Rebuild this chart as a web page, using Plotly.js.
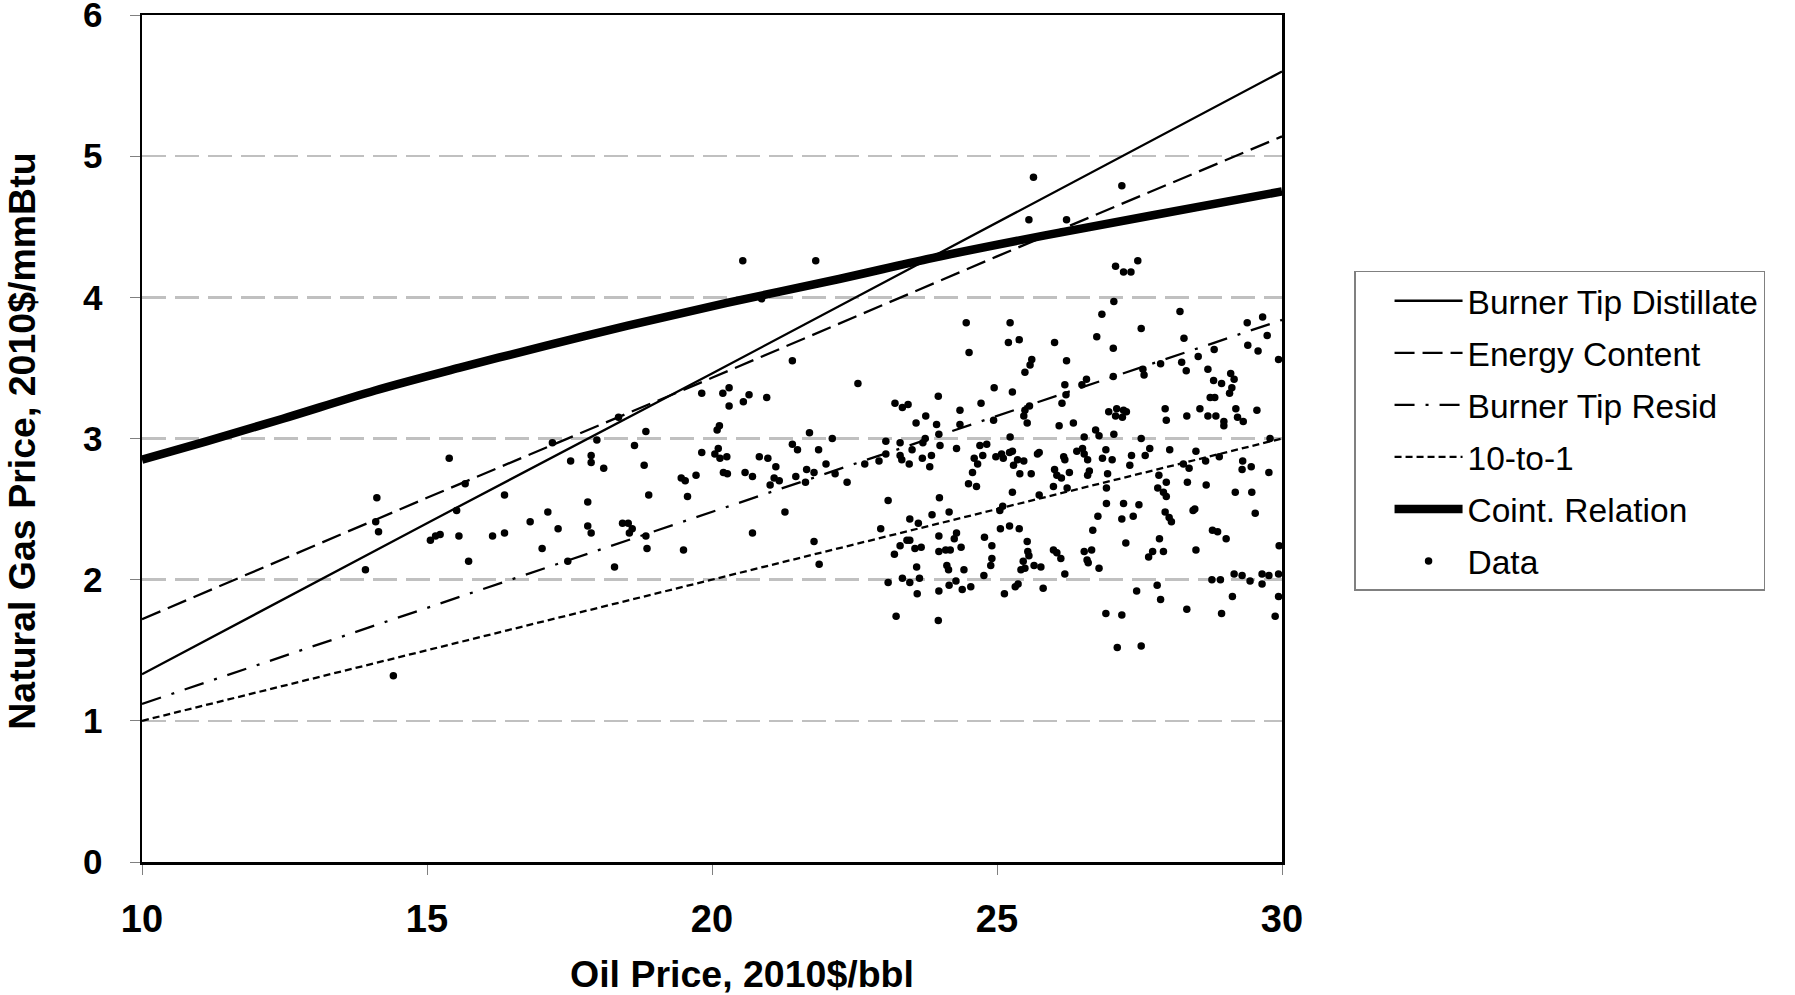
<!DOCTYPE html>
<html>
<head>
<meta charset="utf-8">
<script src="https://cdn.plot.ly/plotly-3.0.1.min.js"></script>
<style>
html,body{margin:0;padding:0;background:#fff;}
#chart{width:1795px;height:995px;}
</style>
</head>
<body>
<div id="chart"></div>
<script>
// ---- Reference lines ----
var lineX = [10, 15, 20, 25, 30];
var burnerTipDistillate = [1.33, 2.40, 3.46, 4.53, 5.60];
var energyContent = [1.72, 2.58, 3.43, 4.29, 5.14];
var burnerTipResid = [1.12, 1.80, 2.48, 3.16, 3.84];
var tenToOne = [1.00, 1.50, 2.00, 2.50, 3.00];

// ---- Cointegrating relation ----
var cointX = [10, 11.13, 12.47, 14.09, 15.56, 17.11, 18.52, 20.26, 22.23, 23.88, 25.73, 27.71, 30];
var cointY = [2.85, 2.98, 3.14, 3.34, 3.50, 3.66, 3.80, 3.96, 4.13, 4.28, 4.43, 4.58, 4.75];

// ---- Observed data (oil price, gas price) ----
var dataOil = [
20.54,20.87,19.82,20.19,20.30,20.30,20.55,20.65,20.96,18.36,17.20,18.84,17.98,20.13,20.09,18.64,20.11,19.82,20.05,20.14,
20.26,15.39,17.52,17.88,17.88,18.10,18.81,20.83,20.98,20.20,20.27,20.58,20.71,19.46,19.53,19.72,21.02,15.67,14.12,16.36,
18.89,19.57,17.82,15.52,14.10,14.15,17.12,16.81,18.43,18.53,18.60,18.55,17.82,17.88,17.30,15.06,15.15,15.23,15.56,16.15,
16.36,18.84,20.71,15.73,17.02,18.86,19.50,13.92,18.29,17.47,14.41,
21.82,21.41,22.56,23.21,23.34,23.44,23.97,23.58,23.75,23.94,21.71,21.41,21.50,21.87,22.11,21.12,22.00,21.66,21.79,21.47,
21.09,21.18,21.64,22.16,22.37,22.68,22.93,23.05,23.05,23.30,23.30,23.33,23.46,23.51,23.70,23.74,23.69,23.85,23.82,23.98,
24.00,21.28,23.09,22.96,21.79,21.88,23.47,23.62,23.99,23.86,24.16,23.42,23.47,23.30,23.20,23.56,23.67,23.98,23.98,24.10,
23.59,24.12,24.15,23.09,23.34,23.47,23.64,23.60,23.98,24.16,23.23,23.97,
25.64,25.56,26.22,27.08,27.05,26.84,24.46,25.23,25.20,25.39,26.01,26.75,27.04,24.51,25.61,25.58,26.22,25.49,26.57,24.95,
25.27,26.19,26.49,26.21,27.04,24.72,25.57,25.49,25.47,26.14,24.35,24.94,25.53,24.35,26.09,26.34,26.96,27.10,27.08,25.23,
26.53,26.73,26.79,27.05,24.29,24.70,24.82,24.75,24.60,24.66,24.98,25.08,25.11,25.22,25.27,25.29,25.36,25.47,25.71,25.74,
26.17,26.19,26.40,26.50,26.53,26.59,26.91,26.85,27.02,24.57,24.50,24.64,25.40,25.60,26.01,26.05,26.13,26.27,25.99,26.62,
26.59,26.94,26.92,25.27,25.74,26.23,25.10,25.05,26.92,26.77,26.68,24.29,24.25,24.78,25.06,25.22,25.39,25.53,24.37,24.18,
24.91,24.91,24.89,24.42,25.54,25.56,25.46,25.42,25.49,25.65,25.77,25.99,26.05,26.12,26.19,26.53,26.66,26.58,26.60,26.79,
24.77,24.28,24.39,24.54,25.13,25.32,25.37,25.81,26.91,27.11,
27.19,27.22,27.35,27.47,28.21,27.53,28.28,29.39,29.66,29.74,29.40,29.58,29.94,28.81,28.53,27.87,28.24,28.32,27.56,27.58,
28.70,29.10,29.16,28.80,28.94,29.12,29.08,28.74,28.82,27.22,27.27,27.20,27.95,27.97,28.33,28.56,28.70,28.84,28.98,28.98,
29.19,29.22,29.32,29.56,27.53,29.79,27.68,27.60,28.03,27.36,27.33,28.49,28.27,28.37,28.66,28.90,29.31,29.30,29.46,29.77,
27.84,27.97,27.82,27.92,27.97,28.34,28.67,29.18,29.47,27.22,27.19,27.39,27.49,27.95,28.02,28.06,28.44,28.47,29.53,27.26,
28.78,28.87,29.02,27.85,27.73,27.66,27.92,28.49,29.95,28.77,28.92,29.16,29.30,29.44,29.65,29.65,29.77,29.94,27.45,27.81,
27.87,29.13,29.94,27.19,28.33,28.94,29.88,27.53
];
var dataGas = [
4.26,3.99,3.32,3.32,3.36,3.23,3.26,3.31,3.29,3.15,2.97,3.05,2.99,3.09,3.06,2.95,2.93,2.90,2.89,2.86,
2.87,2.86,2.84,2.88,2.83,2.79,2.81,2.87,2.86,2.76,2.75,2.76,2.73,2.72,2.70,2.74,2.67,2.68,2.58,2.60,
2.60,2.59,2.55,2.49,2.41,2.34,2.48,2.41,2.40,2.40,2.36,2.33,2.38,2.33,2.36,2.28,2.31,2.32,2.31,2.31,
2.33,2.31,2.33,2.13,2.22,2.22,2.21,2.07,2.09,2.13,1.32,
4.26,3.55,3.39,3.25,3.22,3.24,3.30,3.11,3.16,3.10,3.04,2.96,2.92,2.92,3.00,2.80,2.82,2.78,2.76,2.73,
2.72,2.70,2.69,2.75,2.69,2.82,2.84,2.98,2.89,2.97,2.88,2.85,2.82,2.92,2.97,3.00,2.86,2.88,2.80,3.03,
2.95,2.48,2.56,2.36,2.27,2.11,2.43,2.40,2.58,2.46,2.48,2.28,2.28,2.24,2.18,2.22,2.23,2.31,2.20,2.21,
2.09,2.10,2.07,1.98,2.01,1.98,2.01,1.90,1.92,1.96,1.74,1.71,
4.85,4.55,4.55,4.22,3.97,3.88,3.82,3.82,3.68,3.70,3.68,3.72,3.64,3.61,3.56,3.52,3.55,3.47,3.42,3.36,
3.33,3.38,3.38,3.31,3.44,3.25,3.23,3.20,3.16,3.25,3.20,3.13,3.11,3.10,3.09,3.11,3.19,3.21,3.16,3.01,
3.01,3.06,3.02,3.03,2.93,2.95,2.96,2.88,2.86,2.82,2.87,2.89,2.86,2.90,2.91,2.81,2.85,2.84,2.89,2.90,
2.87,2.85,2.91,2.93,2.89,2.85,2.92,2.86,2.85,2.76,2.68,2.66,2.75,2.75,2.78,2.74,2.72,2.76,2.66,2.77,
2.74,2.75,2.65,2.62,2.60,2.65,2.52,2.49,2.54,2.45,2.35,2.33,2.29,2.30,2.36,2.38,2.36,2.27,2.23,2.21,
2.24,2.15,2.10,2.07,2.20,2.17,2.13,2.07,2.08,2.10,2.09,2.21,2.19,2.15,2.04,2.20,2.21,2.14,2.12,2.08,
2.03,1.99,1.93,1.95,1.90,1.95,1.97,1.94,1.76,1.52,
4.79,4.18,4.18,4.26,3.90,3.78,3.71,3.82,3.86,3.73,3.66,3.62,3.56,3.63,3.58,3.53,3.54,3.48,3.49,3.45,
3.49,3.46,3.42,3.41,3.39,3.36,3.32,3.29,3.29,3.20,3.19,3.15,3.21,3.13,3.16,3.21,3.16,3.16,3.12,3.09,
3.21,3.15,3.12,3.20,3.00,3.00,2.93,2.88,2.92,2.88,2.81,2.91,2.82,2.79,2.84,2.87,2.84,2.78,2.80,2.76,
2.74,2.69,2.65,2.62,2.59,2.69,2.67,2.62,2.62,2.54,2.43,2.45,2.53,2.48,2.44,2.41,2.49,2.50,2.47,2.26,
2.35,2.34,2.29,2.29,2.20,2.16,2.20,2.21,2.24,2.00,2.00,2.04,2.03,1.99,2.04,1.97,2.03,2.04,1.92,1.96,
1.86,1.88,1.88,1.75,1.79,1.76,1.74,1.53
];

// ---- Labels ----
var seriesNames = ["Burner Tip Distillate", "Energy Content", "Burner Tip Resid", "10-to-1", "Coint. Relation", "Data"];
var xTitle = "Oil Price, 2010$/bbl";
var yTitle = "Natural Gas Price, 2010$/mmBtu";

var FONT = "Liberation Sans, Arial, sans-serif";

var traces = [
  {x: dataOil, y: dataGas, mode: "markers", type: "scatter", name: seriesNames[5],
   marker: {color: "#000", size: 7.5}, legendgroup: "g6", legendrank: 6},
  {x: lineX, y: tenToOne, mode: "lines", type: "scatter", name: seriesNames[3],
   line: {color: "#000", width: 2.3, dash: "7px,4px"}, legendgroup: "g4", legendrank: 4},
  {x: lineX, y: burnerTipResid, mode: "lines", type: "scatter", name: seriesNames[2],
   line: {color: "#000", width: 2.3, dash: "20px,11px,3px,11px"}, legendgroup: "g3", legendrank: 3},
  {x: lineX, y: energyContent, mode: "lines", type: "scatter", name: seriesNames[1],
   line: {color: "#000", width: 2.3, dash: "20px,8px"}, legendgroup: "g2", legendrank: 2},
  {x: lineX, y: burnerTipDistillate, mode: "lines", type: "scatter", name: seriesNames[0],
   line: {color: "#000", width: 2.3}, legendgroup: "g1", legendrank: 1},
  {x: cointX, y: cointY, mode: "lines", type: "scatter", name: seriesNames[4],
   line: {color: "#000", width: 8.5, shape: "spline", smoothing: 1}, legendgroup: "g5", legendrank: 5}
];

var layout = {
  width: 1795, height: 995,
  margin: {l: 142, r: 513, t: 15, b: 133, pad: 0},
  paper_bgcolor: "#fff", plot_bgcolor: "#fff",
  font: {family: FONT, color: "#000"},
  showlegend: true,
  legend: {
    x: 1.0632, xanchor: "left", y: 0.6978, yanchor: "top",
    bgcolor: "#fff", bordercolor: "#808080", borderwidth: 1.5,
    font: {family: FONT, size: 33.5, color: "#000"},
    itemwidth: 68, indentation: 34, tracegroupgap: 5.5, traceorder: "grouped"
  },
  xaxis: {
    range: [10, 30], dtick: 5, tick0: 10,
    showline: true, linecolor: "#000", linewidth: 2.5, mirror: true,
    showgrid: false, zeroline: false,
    ticks: "outside", ticklen: 10, tickcolor: "#808080", tickwidth: 1,
    ticklabelstandoff: 12, ticklabeloverflow: "allow",
    tickfont: {family: FONT, size: 38, weight: "bold", color: "#000"}
  },
  yaxis: {
    range: [0, 6], dtick: 1, tick0: 0,
    showline: true, linecolor: "#000", linewidth: 2.5, mirror: true,
    showgrid: true, gridcolor: "#c0c0c0", gridwidth: 2.5, griddash: "24px,9px",
    zeroline: false,
    ticks: "outside", ticklen: 10, tickcolor: "#808080", tickwidth: 1,
    ticklabelstandoff: 20, ticklabeloverflow: "allow",
    tickfont: {family: FONT, size: 35, weight: "bold", color: "#000"}
  },
  annotations: [
    {text: xTitle, xref: "paper", yref: "paper", x: 0.5267, y: -0.1322,
     xanchor: "center", yanchor: "middle", showarrow: false,
     font: {family: FONT, size: 37.5, weight: "bold", color: "#000"}},
    {text: yTitle, xref: "paper", yref: "paper", x: -0.1055, y: 0.497,
     xanchor: "center", yanchor: "middle", showarrow: false, textangle: -90,
     font: {family: FONT, size: 37.5, weight: "bold", color: "#000"}}
  ]
};

Plotly.newPlot("chart", traces, layout, {displayModeBar: false, staticPlot: true});
</script>
</body>
</html>
